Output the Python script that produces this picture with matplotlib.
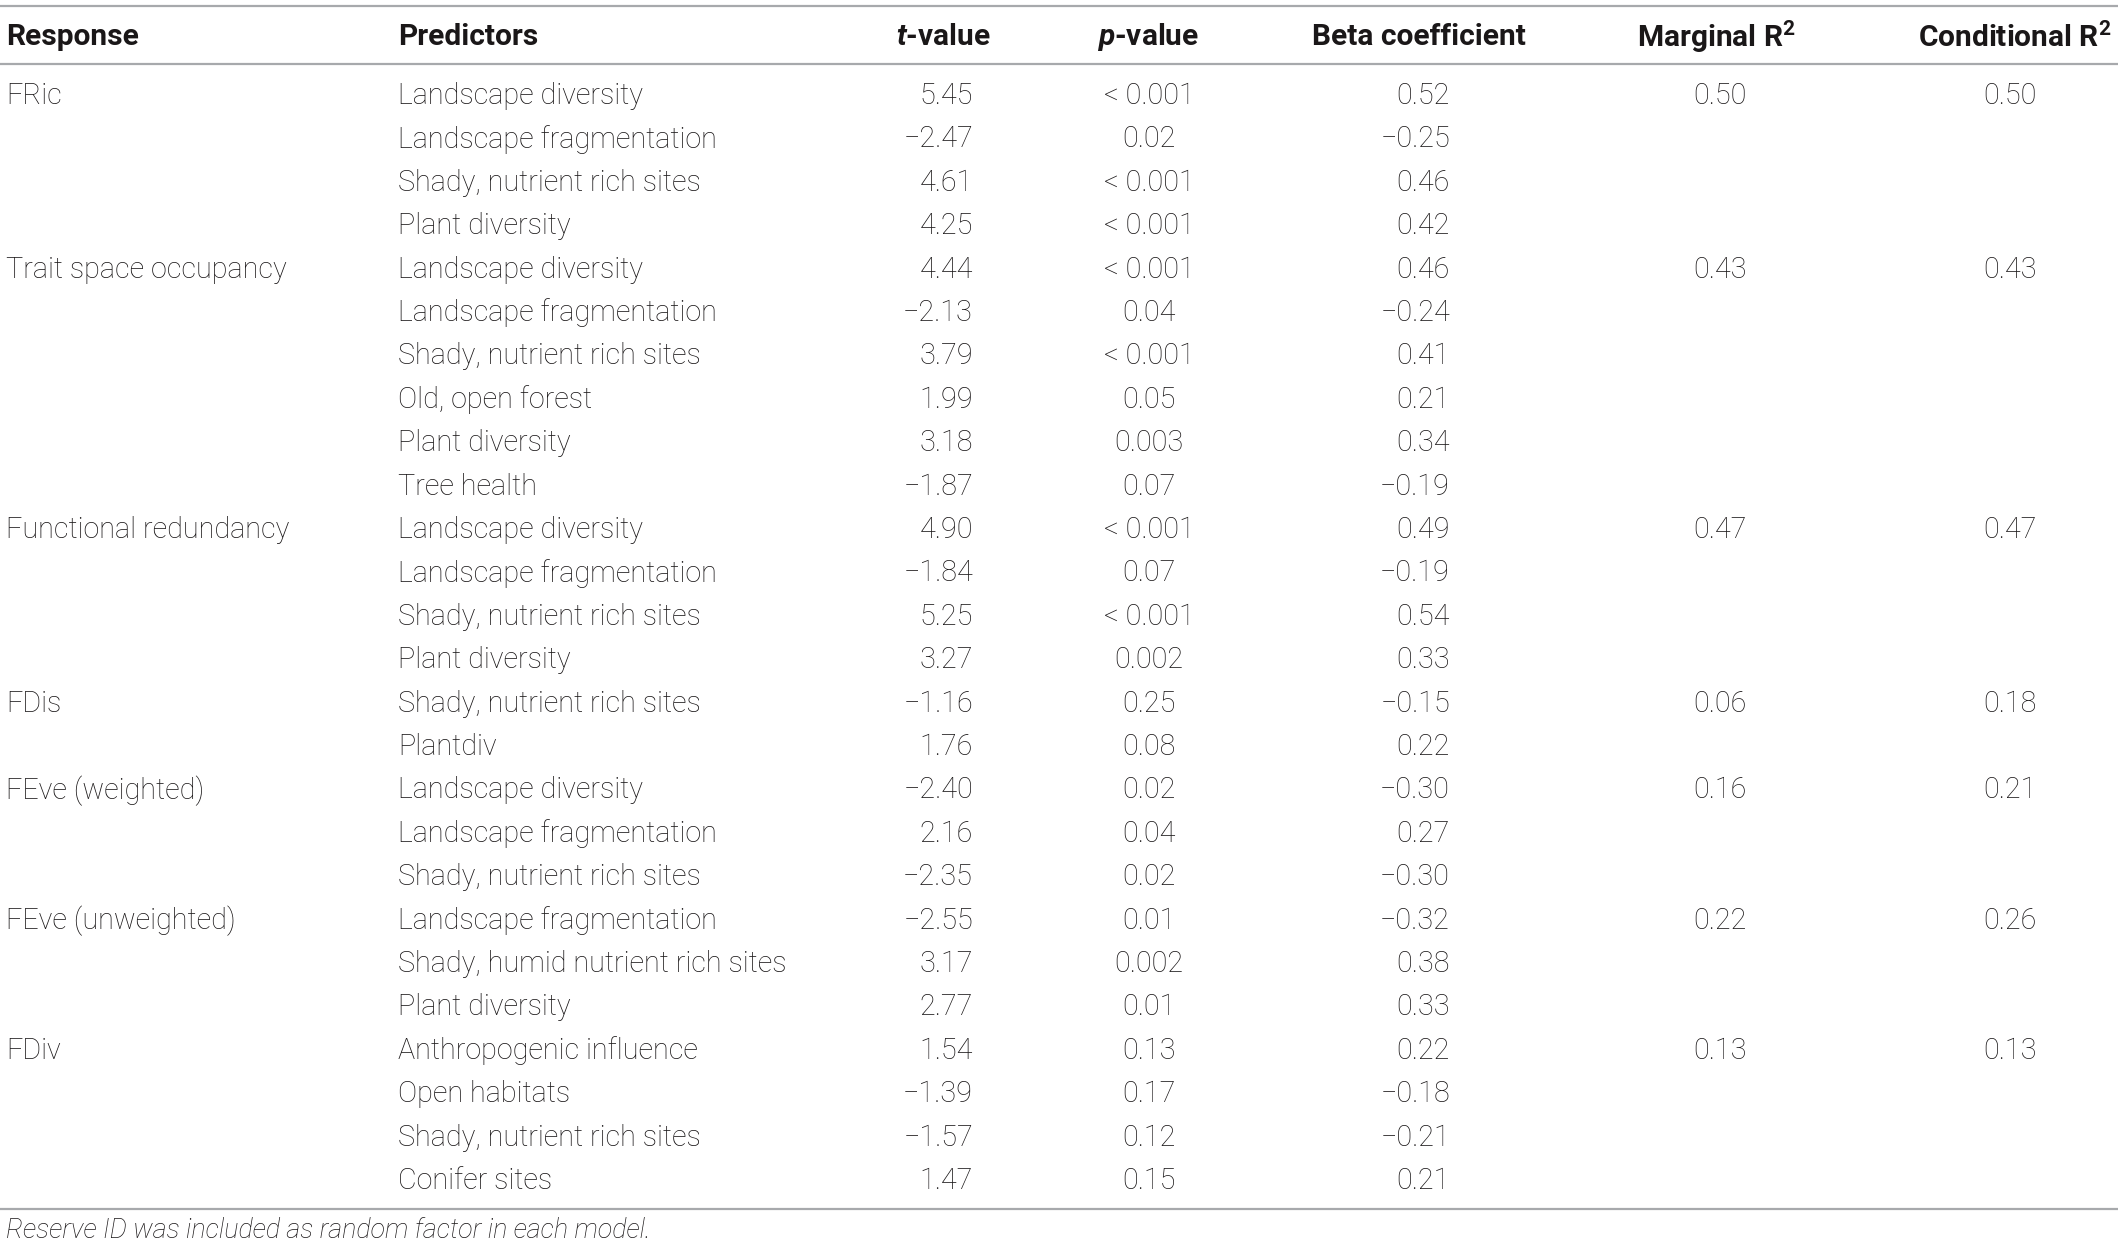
import matplotlib
matplotlib.use("Agg")
import matplotlib.pyplot as plt

# ------------------------------------------------------------------
# table data
# ------------------------------------------------------------------
responses = ["FRic", "Trait space occupancy", "Functional redundancy", "FDis",
             "FEve (weighted)", "FEve (unweighted)", "FDiv"]
group_sizes = [4, 6, 4, 2, 3, 3, 4]
marginal_r2 = [0.50, 0.43, 0.47, 0.06, 0.16, 0.22, 0.13]
conditional_r2 = [0.50, 0.43, 0.47, 0.18, 0.21, 0.26, 0.13]

predictors = [
    "Landscape diversity", "Landscape fragmentation", "Shady, nutrient rich sites", "Plant diversity",
    "Landscape diversity", "Landscape fragmentation", "Shady, nutrient rich sites", "Old, open forest",
    "Plant diversity", "Tree health",
    "Landscape diversity", "Landscape fragmentation", "Shady, nutrient rich sites", "Plant diversity",
    "Shady, nutrient rich sites", "Plantdiv",
    "Landscape diversity", "Landscape fragmentation", "Shady, nutrient rich sites",
    "Landscape fragmentation", "Shady, humid nutrient rich sites", "Plant diversity",
    "Anthropogenic influence", "Open habitats", "Shady, nutrient rich sites", "Conifer sites",
]
t_values = [5.45, -2.47, 4.61, 4.25,
            4.44, -2.13, 3.79, 1.99, 3.18, -1.87,
            4.90, -1.84, 5.25, 3.27,
            -1.16, 1.76,
            -2.40, 2.16, -2.35,
            -2.55, 3.17, 2.77,
            1.54, -1.39, -1.57, 1.47]
p_values = ["< 0.001", "0.02", "< 0.001", "< 0.001",
            "< 0.001", "0.04", "< 0.001", "0.05", "0.003", "0.07",
            "< 0.001", "0.07", "< 0.001", "0.002",
            "0.25", "0.08",
            "0.02", "0.04", "0.02",
            "0.01", "0.002", "0.01",
            "0.13", "0.17", "0.12", "0.15"]
beta_values = [0.52, -0.25, 0.46, 0.42,
               0.46, -0.24, 0.41, 0.21, 0.34, -0.19,
               0.49, -0.19, 0.54, 0.33,
               -0.15, 0.22,
               -0.30, 0.27, -0.30,
               -0.32, 0.38, 0.33,
               0.22, -0.18, -0.21, 0.21]
footnote = "Reserve ID was included as random factor in each model."


def fmt(v):
    return f"{v:.2f}".replace("-", "\u2212")


# ------------------------------------------------------------------
# style
# ------------------------------------------------------------------
W, H = 2118, 1248
TEXT = "#1a1718"
RULE = "#a7a9ac"
FONT = "Roboto"
SIZE = 20.7
HEAD_SIZE = 21.5

plt.rcParams["mathtext.fontset"] = "custom"
plt.rcParams["mathtext.it"] = f"{FONT}:italic:bold"
plt.rcParams["mathtext.bf"] = f"{FONT}:bold"
plt.rcParams["mathtext.rm"] = f"{FONT}:bold"

fig = plt.figure(figsize=(W / 100, H / 100), dpi=100)
ax = fig.add_axes([0, 0, 1, 1])
ax.set_xlim(0, W)
ax.set_ylim(H, 0)
ax.axis("off")

# column anchors (pixels)
x_resp, x_pred = 6, 398
x_t, x_p, x_beta, x_marg, x_cond = 973, 1149, 1450, 1720, 2010
y_head, y_first, row_h = 37, 96, 43.4

body = dict(family=FONT, weight="light", size=SIZE, color=TEXT, va="center")
head = dict(family=FONT, weight="bold", size=HEAD_SIZE, color=TEXT, va="center")

# rules
for y in (6, 64, 1209):
    ax.plot([0, W], [y, y], color=RULE, lw=1.6, solid_capstyle="butt")

# header
ax.text(x_resp, y_head, "Response", ha="left", **head)
ax.text(x_pred, y_head, "Predictors", ha="left", **head)
ax.text(943, y_head, "$t$-value", ha="center", **head)
ax.text(1148, y_head, "$p$-value", ha="center", **head)
ax.text(1419, y_head, "Beta coefficient", ha="center", **head)
ax.text(1716, y_head, "Marginal R$^{\\mathbf{2}}$", ha="center", **head)
ax.text(2112, y_head, "Conditional R$^{\\mathbf{2}}$", ha="right", **head)

# body rows
for i, (pred, t, p, b) in enumerate(zip(predictors, t_values, p_values, beta_values)):
    y = y_first + i * row_h
    ax.text(x_pred, y, pred, ha="left", **body)
    ax.text(x_t, y, fmt(t), ha="right", **body)
    ax.text(x_p, y, p, ha="center", **body)
    ax.text(x_beta, y, fmt(b), ha="right", **body)

# response groups
row = 0
for resp, n, mr, cr in zip(responses, group_sizes, marginal_r2, conditional_r2):
    y = y_first + row * row_h
    ax.text(x_resp, y, resp, ha="left", **body)
    ax.text(x_marg, y, f"{mr:.2f}", ha="center", **body)
    ax.text(x_cond, y, f"{cr:.2f}", ha="center", **body)
    row += n

ax.text(x_resp, 1231, footnote, ha="left", family=FONT, weight="light",
        style="italic", size=19.4, color=TEXT, va="center")

fig.savefig("out.png", dpi=100)
